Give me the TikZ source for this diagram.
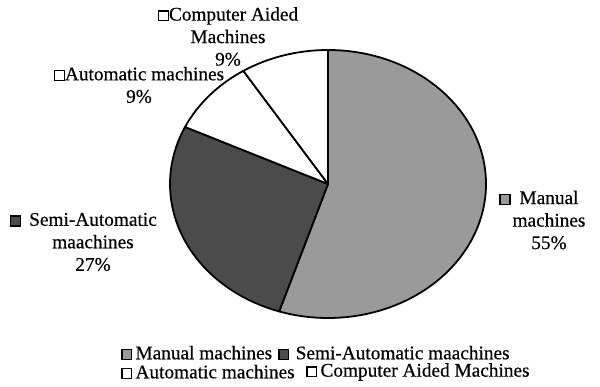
\documentclass[tikz,border=0pt]{standalone}
\usepackage{fontspec}
\setmainfont{Liberation Serif}[FakeBold=0.5]
\usetikzlibrary{calc}
\definecolor{mgray}{HTML}{9A9A9A}
\definecolor{sgray}{HTML}{4B4B4B}
\newcommand\lgsq[1]{{\setlength{\fboxsep}{0pt}\setlength{\fboxrule}{1.3pt}\raisebox{0.5pt}{\fcolorbox{black}{#1}{\rule{0pt}{8.5pt}\rule{8.5pt}{0pt}}}}}
\begin{document}
\begin{tikzpicture}[x=1pt,y=1pt,
  slice/.style={draw=black,line width=1.8pt,line join=round},
  lbl/.style={font=\fontsize{19.3}{22.5}\selectfont,align=center,inner sep=0pt},
  leg/.style={font=\fontsize{19.3}{22}\selectfont,anchor=west,inner sep=0pt}]
\useasboundingbox (0,0) rectangle (600,386);
\coordinate (c) at (328,202);
\filldraw[slice,fill=mgray] (c) -- ++(90:134) arc[start angle=90,end angle=-108,x radius=158,y radius=134] -- cycle;
\filldraw[slice,fill=sgray] (c) -- ($(c)+({158*cos(-108)},{134*sin(-108)})$) arc[start angle=-108,end angle=-205.2,x radius=158,y radius=134] -- cycle;
\filldraw[slice,fill=white] (c) -- ($(c)+({158*cos(-205.2)},{134*sin(-205.2)})$) arc[start angle=-205.2,end angle=-237.6,x radius=158,y radius=134] -- cycle;
\filldraw[slice,fill=white] (c) -- ($(c)+({158*cos(-237.6)},{134*sin(-237.6)})$) arc[start angle=-237.6,end angle=-270,x radius=158,y radius=134] -- cycle;
% data labels
\node[lbl] (lman) at (549,166) {\llap{\lgsq{mgray}\hspace{9pt}}Manual\\machines\\55\%};
\node[lbl] (lsemi) at (93,144) {\llap{\lgsq{sgray}\hspace{8pt}}Semi-Automatic\\maachines\\27\%};
\node[lbl] (lauto) at (139,301) {\lgsq{white}Automatic machines\\9\%};
\node[lbl] (lcad) at (228,349.5) {\lgsq{white}Computer Aided\\Machines\\9\%};
% legend
\node[leg] (g1) at (121,33) {\lgsq{mgray}\,Manual machines};
\node[leg] (g2) at (278,33) {\lgsq{sgray}\,\,Semi-Automatic maachines};
\node[leg] (g3) at (121,14) {\lgsq{white}\,Automatic machines};
\node[leg] (g4) at (306,14) {\lgsq{white}\,Computer Aided Machines};
\end{tikzpicture}
\end{document}
